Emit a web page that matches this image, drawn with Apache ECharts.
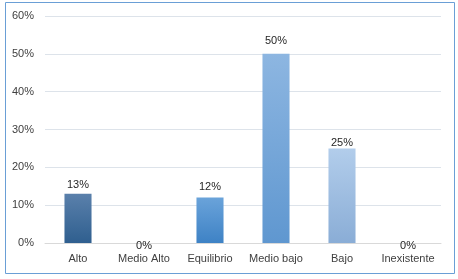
<!DOCTYPE html>
<html><head><meta charset="utf-8">
<script src="https://cdn.jsdelivr.net/npm/echarts@6/dist/echarts.min.js"></script>
<style>html,body{margin:0;padding:0;background:#fff}#c{width:458px;height:279px}</style>
</head><body><div id="c"></div>
<script>
const categories = ['Alto', 'Medio Alto', 'Equilibrio', 'Medio bajo', 'Bajo', 'Inexistente'];
const values = [13, 0, 12, 50, 25, 0];
const yTicks = {min: 0, max: 60, interval: 10};

// styles (kept apart from data)
const barColors = [
  ['#5a80ab', '#2f5f8f'],
  ['#5a80ab', '#2f5f8f'],
  ['#6aa3da', '#3e82c5'],
  ['#8db6e1', '#5f97d0'],
  ['#b2cdeb', '#8aadd6'],
  ['#b2cdeb', '#8aadd6']
];
const labelDistances = [3, -8, 5, 7, 0, -8];
const font = 'Liberation Sans';
const chart = echarts.init(document.getElementById('c'), null, {renderer: 'canvas'});
chart.setOption({
  animation: false,
  grid: {left: 45, right: 17, top: 16, bottom: 36},
  graphic: [{type: 'rect', shape: {x: 5.5, y: 2.5, width: 449, height: 271},
    style: {fill: 'none', stroke: '#6a9fd6', lineWidth: 1}, z: -1}],
  xAxis: {
    type: 'category', data: categories,
    axisLine: {lineStyle: {color: '#d9d9d9'}},
    axisTick: {show: false},
    axisLabel: {color: '#404040', fontFamily: font, fontSize: 11, margin: 10, interval: 0}
  },
  yAxis: {
    type: 'value', min: yTicks.min, max: yTicks.max, interval: yTicks.interval,
    axisLabel: {formatter: '{value}%', color: '#404040', fontFamily: font, fontSize: 11, margin: 11},
    splitLine: {lineStyle: {color: '#dde3ea'}},
    axisLine: {show: false}, axisTick: {show: false}
  },
  series: [{
    type: 'bar', barWidth: '41%',
    data: values.map((v, i) => ({
      value: v,
      itemStyle: {color: new echarts.graphic.LinearGradient(0, 0, 0, 1, [
        {offset: 0, color: barColors[i][0]}, {offset: 1, color: barColors[i][1]}])},
      label: {distance: labelDistances[i]}
    })),
    label: {show: true, position: 'top', formatter: '{c}%',
      color: '#262626', fontFamily: font, fontSize: 11}
  }]
});
</script></body></html>
